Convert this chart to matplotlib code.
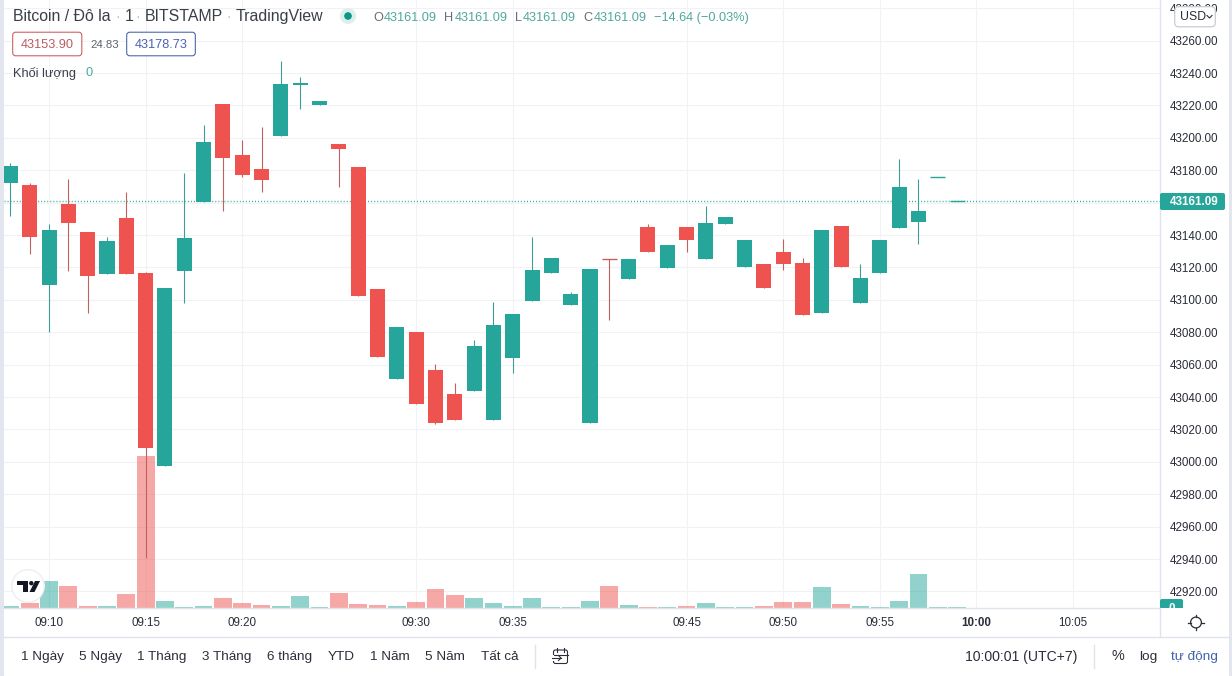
import numpy as np
import matplotlib
matplotlib.use("Agg")
import matplotlib.pyplot as plt
from matplotlib.patches import Rectangle, FancyBboxPatch, Circle, Polygon
from matplotlib.transforms import blended_transform_factory, Affine2D

plt.rcParams['font.family'] = ['Liberation Sans', 'DejaVu Sans']

# ---------- data ----------
opens = [43172.3,43170.9,43109.4,43159.2,43141.9,43116.2,43150.6,43116.6,42997.7,43118.0,
         43160.6,43220.9,43189.4,43180.8,43201.2,43232.7,43220.3,43196.2,43182.0,43106.7,
         43051.2,43080.2,43056.7,43041.9,43044.0,43025.9,43064.1,43099.3,43116.6,43096.9,
         43024.0,43125.2,43112.9,43145.0,43119.7,43145.0,43125.2,43146.9,43120.3,43122.2,
         43129.6,43122.8,43091.9,43145.6,43098.1,43116.6,43144.4,43148.1,43175.7,43161.09]
highs = [43184.3,43172.0,43146.9,43174.6,43141.9,43138.8,43166.6,43117.2,43107.3,43178.3,
         43208.0,43220.9,43198.7,43206.7,43247.3,43237.4,43222.8,43196.2,43182.0,43106.7,
         43083.3,43080.2,43060.4,43048.7,43075.2,43098.7,43091.3,43138.8,43125.9,43104.9,
         43119.1,43125.2,43125.2,43146.9,43133.9,43145.0,43158.0,43151.2,43137.0,43122.2,
         43137.6,43125.9,43143.1,43145.6,43122.2,43137.0,43187.0,43174.6,43175.7,43161.09]
lows = [43152.0,43128.5,43080.4,43118.0,43092.1,43116.2,43116.2,42940.9,42997.7,43098.3,
        43160.6,43155.1,43176.0,43166.8,43201.2,43217.8,43220.3,43169.9,43102.4,43064.8,
        43051.2,43035.7,43023.4,43025.9,43044.0,43025.9,43054.9,43099.3,43116.6,43096.9,
        43024.0,43087.6,43112.9,43129.6,43119.7,43129.6,43125.2,43146.9,43120.3,43107.3,
        43118.5,43090.7,43091.9,43120.3,43098.1,43116.6,43144.4,43134.5,43175.7,43161.09]
closes = [43182.7,43139.0,43143.1,43147.7,43114.9,43136.4,43116.2,43008.8,43107.3,43138.2,
          43197.5,43187.8,43177.1,43174.0,43233.3,43233.7,43222.8,43193.1,43102.4,43064.8,
          43083.3,43035.7,43024.0,43025.9,43071.5,43084.5,43091.3,43118.5,43125.9,43103.6,
          43119.1,43124.6,43125.2,43129.6,43133.9,43137.0,43147.5,43151.2,43137.0,43107.3,
          43122.2,43090.7,43143.1,43120.3,43113.5,43137.0,43169.7,43154.9,43175.7,43161.09]
volumes = [2.3,5.3,27.3,22.3,2.3,2.3,14.3,152,7.3,1.3,
           2.3,10.3,5.3,3.3,2.3,12.3,1.3,15.3,4.3,3.3,
           2.3,6.3,19.3,13.3,10.3,5.3,2.3,10.3,1.3,1.3,
           7.3,22.3,3.3,1.3,1.3,2.3,5.3,1.3,1.3,2.3,
           6.3,6.3,21.3,4.3,2.3,1.3,7.3,34.3,1.3,1.3]
time_ticks = [2,7,12,21,26,35,40,45,50,55]
time_labels = ['09:10','09:15','09:20','09:30','09:35','09:45','09:50','09:55','10:00','10:05']
price_ticks = list(range(42920, 43281, 20))
last_price = 43161.09

range_buttons = ['1 Ngày','5 Ngày','1 Tháng','3 Tháng','6 tháng','YTD','1 Năm','5 Năm','Tất cả']
range_x = [21,79,137,202,267,328,370,425,481]

# ---------- layout ----------
W, H = 1232, 676
UP, DOWN = '#26a69a', '#ef5350'
UP_W, DOWN_W = '#3f9d95', '#c2625f'
GRID, LINE, TXT = '#f0f2f5', '#e0e3eb', '#2a2e39'
VAL = '#4fa89f'
L, R, B = 4, 1160, 608
X0, DX = 10.4, 19.32
Y_AT_PX0, PX_PER = 43285.1, 1.62

fig = plt.figure(figsize=(W/100, H/100), dpi=100, facecolor='#e3e6ee')

bg = fig.add_axes([0, 0, 1, 1], zorder=0)
bg.set_xlim(0, W); bg.set_ylim(H, 0); bg.axis('off')
bg.add_patch(FancyBboxPatch((L+4, -20), 1229-L-8, 694.5, boxstyle='round,pad=4',
                            fc='white', ec='none'))

ax = fig.add_axes([L/W, 1-B/H, (R-L)/W, B/H], zorder=1)
ax.patch.set_visible(False)
idx = np.arange(len(opens))
o, h, l, c, v = map(np.array, (opens, highs, lows, closes, volumes))
up = c >= o

ax.set_axisbelow(True)
ax.grid(True, color=GRID, lw=0.75)

# volume bars on their own vertical scale (height 1 = one unit)
vol_tf = blended_transform_factory(ax.transData, Affine2D().scale(1, 1/B) + ax.transAxes)
ax.bar(idx, v, width=0.92, color=[UP if u else DOWN for u in up], alpha=0.5, lw=0,
       transform=vol_tf, zorder=1.5)

ax.axhline(last_price, color=UP, lw=1.0, ls=(0, (0.7, 1.5)), zorder=1.8)

ax.vlines(idx[up], l[up], h[up], color=UP_W, lw=0.8, zorder=2)
ax.vlines(idx[~up], l[~up], h[~up], color=DOWN_W, lw=0.8, zorder=2)
top, bot = np.maximum(o, c), np.minimum(o, c)
thick = (top - bot) >= 1
ax.bar(idx[thick], (top-bot)[thick], bottom=bot[thick], width=0.78,
       color=[UP if u else DOWN for u in up[thick]], lw=0, zorder=3)
ax.hlines(top[~thick], idx[~thick]-0.39, idx[~thick]+0.39,
          color=[UP if u else DOWN_W for u in up[~thick]], lw=1.0, zorder=3)

ax.set_xlim((L-X0)/DX, (R-X0)/DX)
ax.set_ylim(Y_AT_PX0-B/PX_PER, Y_AT_PX0)
ax.set_xticks(time_ticks, time_labels)
# the 43160 label sits under the last-price tag in the reference, so it is left blank
ax.set_yticks(price_ticks, ['' if p == 43160 else f'{p:.2f}' for p in price_ticks])
ax.yaxis.tick_right()
ax.tick_params(axis='both', length=0, labelcolor=TXT, labelsize=8.4)
ax.tick_params(axis='x', pad=6.5)
ax.tick_params(axis='y', pad=7.2)
ax.get_xticklabels()[8].set_fontweight('bold')
for s in ('top', 'left'):
    ax.spines[s].set_visible(False)
for s in ('right', 'bottom'):
    ax.spines[s].set_color(LINE); ax.spines[s].set_linewidth(1.0)

# ---------- overlay chrome ----------
ov = fig.add_axes([0, 0, 1, 1], zorder=5)
ov.set_xlim(0, W); ov.set_ylim(H, 0); ov.axis('off'); ov.patch.set_visible(False)

def T(x, y, s, size=9.15, color=TXT, ha='left', **kw):
    return ov.text(x, y, s, fontsize=size, color=color, ha=ha, va='center', **kw)

# title
T(13, 16.5, 'Bitcoin / Đô la', 11.4, '#3a3e49')
T(125, 16.5, '1', 11.4, '#3a3e49')
T(145, 16.5, 'BITSTAMP', 11.4, '#3a3e49')
T(236, 16.5, 'TradingView', 11.4, '#3a3e49')
for dx in (118, 138, 229):
    T(dx, 16.5, '·', 10.2, '#b8bcc6', ha='center')
ov.add_patch(Circle((348, 16), 8, fc='#dcefed', ec='none'))
ov.add_patch(Circle((348, 16), 3.8, fc='#0d9585', ec='none'))

# OHLC
for lx, vx, letter in ((373, 384, 'O'), (444, 455, 'H'), (515, 523, 'L'), (583, 594, 'C')):
    T(lx, 18.2, letter, 9.15, '#6a6d78')
    T(vx, 18.2, f'{last_price:.2f}', 9.15, VAL)
T(654, 18.2, '−14.64 (−0.03%)', 9.15, VAL)

# bid / ask
ov.add_patch(FancyBboxPatch((14, 33.5), 66.5, 21, boxstyle='round,pad=1.3,rounding_size=3',
                            fc='white', ec='#c8585c', lw=0.75))
T(47.5, 45, '43153.90', 9.15, '#bc5c60', ha='center')
T(90, 45, '24.83', 8.2, '#60636e')
ov.add_patch(FancyBboxPatch((128, 33.5), 66, 21, boxstyle='round,pad=1.3,rounding_size=3',
                            fc='white', ec='#3f5ea8', lw=0.75))
T(161, 45, '43178.73', 9.15, '#4a62b4', ha='center')

T(13, 73, 'Khối lượng', 9.15, '#3a3e49')
T(85, 73, '0', 9.15, VAL)

# USD selector
ov.add_patch(FancyBboxPatch((1177, 9), 36, 15.5, boxstyle='round,pad=2.3,rounding_size=4',
                            fc='white', ec='#c9ccd4', lw=0.9))
T(1180, 17, 'USD', 8.8)
ov.plot([1207, 1209.5, 1212], [15.5, 18, 15.5], color=TXT, lw=0.8)

# price tags
ov.add_patch(FancyBboxPatch((1160, 193), 65, 17, boxstyle='round,pad=0,rounding_size=2',
                            fc=UP, ec='none'))
T(1170, 202, f'{last_price:.2f}', 8.4, 'white', fontweight='bold')
tag = FancyBboxPatch((1160, 599), 23, 14, boxstyle='round,pad=0,rounding_size=2', fc=UP, ec='none')
ov.add_patch(tag)
clipper = Rectangle((1155, 595), 35, 13, transform=ov.transData)
tag.set_clip_path(clipper)
t0 = T(1171.5, 608.5, '0', 8.4, 'white', ha='center', fontweight='bold', clip_on=True)
t0.set_clip_path(clipper)

# TradingView badge
ov.add_patch(Circle((28, 586), 16.3, fc='white', ec='#eceef3', lw=1))
ov.add_patch(Polygon([(17, 581), (28, 581), (28, 592), (23, 592), (23, 585.2), (17, 585.2)],
                     fc='#131722', ec='none'))
ov.add_patch(Circle((31.3, 583.2), 2.2, fc='#131722', ec='none'))
ov.add_patch(Polygon([(35, 581), (40, 581), (34.5, 592), (29.5, 592)], fc='#131722', ec='none'))

# separators
ov.plot([R, R], [B, 637], color=LINE, lw=1)
ov.plot([L, 1229], [637, 637], color=LINE, lw=1)
ov.plot([535, 535], [645, 668], color=LINE, lw=1)
ov.plot([1094, 1094], [645, 668], color=LINE, lw=1)

# range buttons
for bx, s in zip(range_x, range_buttons):
    T(bx, 657, s, 9.7)
# calendar icon
ov.add_patch(FancyBboxPatch((553.5, 650), 14, 13.5, boxstyle='round,pad=0,rounding_size=2',
                            fc='none', ec=TXT, lw=0.8))
ov.add_patch(Rectangle((551, 654.5), 5, 6, fc='white', ec='none'))
ov.plot([553.5, 567.5], [654.5, 654.5], color=TXT, lw=0.8)
ov.plot([557, 557], [648, 652], color=TXT, lw=0.8)
ov.plot([564, 564], [648, 652], color=TXT, lw=0.8)
ov.plot([552, 561], [658, 658], color=TXT, lw=0.8)
ov.plot([558.5, 561, 558.5], [655.5, 658, 660.5], color=TXT, lw=0.8)

# right-hand toolbar
T(965, 657, '10:00:01 (UTC+7)', 10.1)
T(1111, 656.5, '%', 10.4)
T(1139, 657, 'log', 9.7)
T(1171, 657, 'tự động', 9.7, '#3f62ad')

# settings icon
ov.add_patch(Circle((1196, 622.5), 5.4, fc='white', ec=TXT, lw=0.9))
for a in np.deg2rad([0, 90, 180, 270]):
    ov.plot([1196+5.4*np.cos(a), 1196+7.6*np.cos(a)], [622.5+5.4*np.sin(a), 622.5+7.6*np.sin(a)],
            color=TXT, lw=0.9)

fig.savefig('out.png', dpi=100, facecolor=fig.get_facecolor())
